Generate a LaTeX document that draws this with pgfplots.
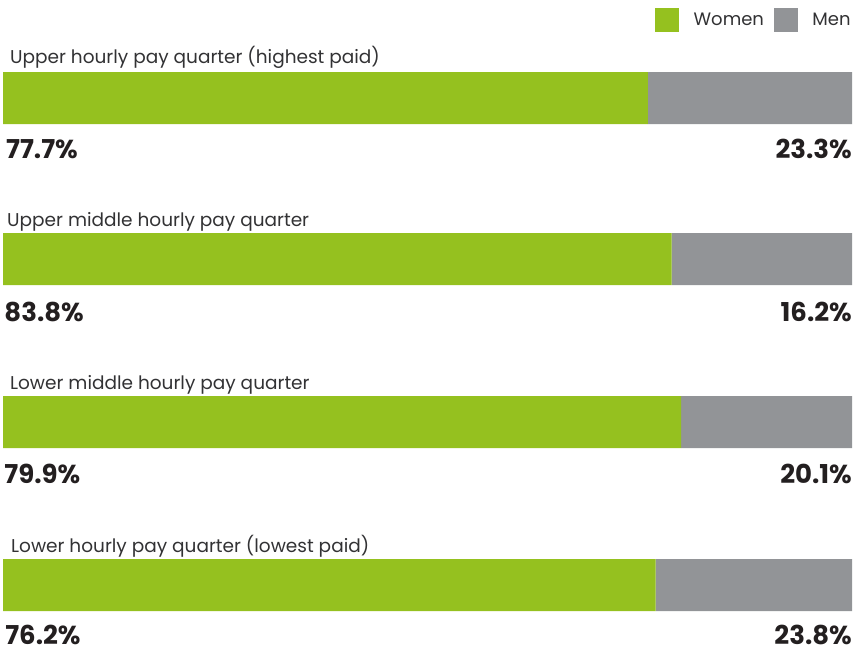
\documentclass[border=0pt]{standalone}
\usepackage{pgfplots}
\pgfplotsset{compat=1.18}
\usepackage{fontspec}
\setmainfont{Poppins}
\definecolor{wgreen}{RGB}{149,193,31}
\definecolor{mgray}{RGB}{146,148,151}
\definecolor{txt}{RGB}{35,31,32}
\definecolor{ltxt}{RGB}{50,50,52}
\tikzset{
  catlab/.style={anchor=base west, inner sep=0pt, text=ltxt, font=\fontsize{18.5}{22}\selectfont},
  pl/.style={anchor=base west, inner sep=0pt, text=txt, font=\bfseries\fontsize{26}{30}\selectfont},
  pr/.style={anchor=base east, inner sep=0pt, text=txt, font=\bfseries\fontsize{26}{30}\selectfont}
}
\begin{document}
\begin{tikzpicture}
\begin{axis}[
  scale only axis, width=863pt, height=651pt,
  xmin=-0.3534, xmax=101.296, ymin=0, ymax=651, y dir=reverse,
  hide axis, clip=false,
  xbar stacked, bar width=52pt,
  legend style={at={(axis cs:100.1,20)}, anchor=east, draw=none, fill=none, inner sep=0pt,
    legend columns=-1, font=\fontsize{18}{21}\selectfont, text=ltxt,
    /tikz/every odd column/.append style={column sep=12.5pt},
    /tikz/every even column/.append style={column sep=8pt}},
  legend image code/.code={\fill[#1] (0pt,-12pt) rectangle (24pt,12pt);},
]
\addplot[fill=wgreen, draw=none] coordinates {(75.97,98) (78.76,259) (79.86,422) (76.88,585)};
\addplot[fill=mgray, draw=none] coordinates {(24.03,98) (21.24,259) (20.14,422) (23.12,585)};
\legend{Women, Men}
\path (rel axis cs:0,0) rectangle (rel axis cs:1,1);
\node[catlab] at (axis cs:0.82,63) {Upper hourly pay quarter (highest paid)};
\node[catlab] at (axis cs:0.47,226.7) {Upper middle hourly pay quarter};
\node[catlab] at (axis cs:0.82,389.3) {Lower middle hourly pay quarter};
\node[catlab] at (axis cs:0.94,552.7) {Lower hourly pay quarter (lowest paid)};
\node[pl] at (axis cs:0.35,158) {77.7\%};
\node[pl] at (axis cs:0.15,321) {83.8\%};
\node[pl] at (axis cs:0.15,483) {79.9\%};
\node[pl] at (axis cs:0.25,644) {76.2\%};
\node[pr] at (axis cs:100,158) {23.3\%};
\node[pr] at (axis cs:100,321) {16.2\%};
\node[pr] at (axis cs:100,483) {20.1\%};
\node[pr] at (axis cs:100,644) {23.8\%};
\end{axis}
\end{tikzpicture}
\end{document}
